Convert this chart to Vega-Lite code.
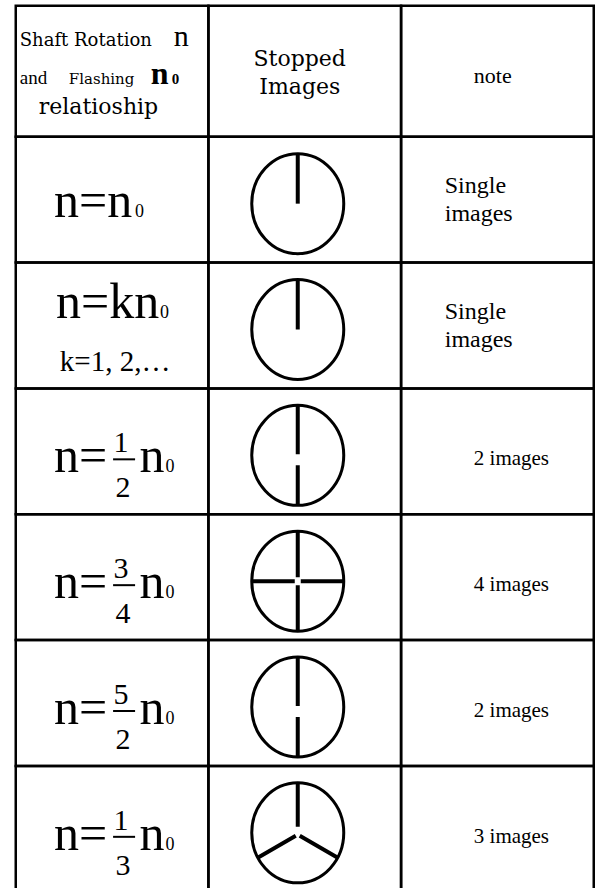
{
  "$schema": "https://vega.github.io/schema/vega-lite/v6.json",
  "background": "white",
  "padding": {"left": 13.75, "top": 3.75, "right": 0, "bottom": 0},
  "spacing": 0,
  "bounds": "flush",
  "config": {"view": {"stroke": null}},
  "datasets": {
    "header": [
      {"col": "formula", "part": "shaft", "text": "Shaft Rotation"},
      {"col": "formula", "part": "n", "text": "n"},
      {"col": "formula", "part": "and", "text": "and"},
      {"col": "formula", "part": "flash", "text": "Flashing"},
      {"col": "formula", "part": "bn", "text": "n"},
      {"col": "formula", "part": "b0", "text": "0"},
      {"col": "formula", "part": "rel", "text": "relatioship"},
      {"col": "image", "part": "stopped", "text": ["Stopped", "Images"]},
      {"col": "note", "part": "note", "text": "note"}
    ],
    "table": [
      {"row": "r1", "kind": "plain", "formula": "n=n0", "lhs": "n=n", "sub": "0", "image": "single", "note": ["Single", "images"]},
      {"row": "r2", "kind": "plain", "formula": "n=kn0, k=1, 2,…", "lhs": "n=kn", "sub": "0", "extra": "k=1, 2,…", "image": "single", "note": ["Single", "images"]},
      {"row": "r3", "kind": "frac", "formula": "n=1/2 n0", "lhs": "n=", "num": "1", "den": "2", "rhs": "n", "sub": "0", "image": "double", "note": "2 images"},
      {"row": "r4", "kind": "frac", "formula": "n=3/4 n0", "lhs": "n=", "num": "3", "den": "4", "rhs": "n", "sub": "0", "image": "quad", "note": "4 images"},
      {"row": "r5", "kind": "frac", "formula": "n=5/2 n0", "lhs": "n=", "num": "5", "den": "2", "rhs": "n", "sub": "0", "image": "double", "note": "2 images"},
      {"row": "r6", "kind": "frac", "formula": "n=1/3 n0", "lhs": "n=", "num": "1", "den": "3", "rhs": "n", "sub": "0", "image": "triple", "note": "3 images"}
    ]
  },
  "vconcat": [
    {
      "width": 578,
      "height": 131,
      "data": {"name": "header"},
      "encoding": {
        "x": {"field": "col", "type": "nominal", "scale": {"domain": ["formula", "image", "note"], "paddingInner": 0, "paddingOuter": 0}, "axis": null},
        "y": {"datum": "head", "type": "nominal", "scale": {"paddingInner": 0, "paddingOuter": 0}, "axis": null}
      },
      "layer": [
        {
          "transform": [{"aggregate": [{"op": "count", "as": "count"}], "groupby": ["col"]}],
          "mark": {"type": "rect", "fill": "transparent", "stroke": "black", "strokeWidth": 2.5}
        },
        {
          "transform": [{"filter": {"field": "part", "equal": "shaft"}}],
          "mark": {"type": "text", "font": "DejaVu Serif", "fontSize": 18, "align": "left", "baseline": "alphabetic", "dx": -92.3, "dy": -25.5, "color": "black"},
          "encoding": {"text": {"field": "text"}}
        },
        {
          "transform": [{"filter": {"field": "part", "equal": "n"}}],
          "mark": {"type": "text", "font": "Liberation Serif", "fontSize": 30, "align": "left", "baseline": "alphabetic", "dx": 61.7, "dy": -25.5, "color": "black"},
          "encoding": {"text": {"field": "text"}}
        },
        {
          "transform": [{"filter": {"field": "part", "equal": "and"}}],
          "mark": {"type": "text", "font": "Liberation Serif", "fontSize": 19, "align": "left", "baseline": "alphabetic", "dx": -92.3, "dy": 12.5, "color": "black"},
          "encoding": {"text": {"field": "text"}}
        },
        {
          "transform": [{"filter": {"field": "part", "equal": "flash"}}],
          "mark": {"type": "text", "font": "DejaVu Serif", "fontSize": 15, "align": "left", "baseline": "alphabetic", "dx": -43.3, "dy": 12.5, "color": "black"},
          "encoding": {"text": {"field": "text"}}
        },
        {
          "transform": [{"filter": {"field": "part", "equal": "bn"}}],
          "mark": {"type": "text", "font": "Liberation Serif", "fontSize": 32, "fontWeight": "bold", "align": "left", "baseline": "alphabetic", "dx": 38.7, "dy": 12.5, "color": "black"},
          "encoding": {"text": {"field": "text"}}
        },
        {
          "transform": [{"filter": {"field": "part", "equal": "b0"}}],
          "mark": {"type": "text", "font": "Liberation Serif", "fontSize": 15, "fontWeight": "bold", "align": "left", "baseline": "alphabetic", "dx": 59.7, "dy": 12.5, "color": "black"},
          "encoding": {"text": {"field": "text"}}
        },
        {
          "transform": [{"filter": {"field": "part", "equal": "rel"}}],
          "mark": {"type": "text", "font": "DejaVu Serif", "fontSize": 22, "align": "left", "baseline": "alphabetic", "dx": -73.3, "dy": 42.5, "color": "black"},
          "encoding": {"text": {"field": "text"}}
        },
        {
          "transform": [{"filter": {"field": "part", "equal": "stopped"}}],
          "mark": {"type": "text", "font": "DejaVu Serif", "fontSize": 22, "align": "center", "baseline": "alphabetic", "lineHeight": 28, "dx": -5, "dy": -5.5, "color": "black"},
          "encoding": {"text": {"field": "text"}}
        },
        {
          "transform": [{"filter": {"field": "part", "equal": "note"}}],
          "mark": {"type": "text", "font": "Liberation Serif", "fontSize": 22, "align": "center", "baseline": "alphabetic", "dx": -4.7, "dy": 11.5, "color": "black"},
          "encoding": {"text": {"field": "text"}}
        }
      ]
    },
    {
      "width": 578,
      "height": 755,
      "data": {"name": "table"},
      "encoding": {
        "y": {"field": "row", "type": "nominal", "scale": {"domain": ["r1", "r2", "r3", "r4", "r5", "r6"], "paddingInner": 0, "paddingOuter": 0}, "axis": null}
      },
      "layer": [
        {
          "transform": [{"fold": ["formula", "image", "note"]}],
          "mark": {"type": "rect", "fill": "transparent", "stroke": "black", "strokeWidth": 2.5},
          "encoding": {"x": {"field": "key", "type": "nominal", "scale": {"domain": ["formula", "image", "note"], "paddingInner": 0, "paddingOuter": 0}, "axis": null}}
        },
        {
          "transform": [{"filter": {"field": "row", "equal": "r1"}}],
          "mark": {"type": "text", "font": "Liberation Serif", "fontSize": 50, "align": "left", "baseline": "alphabetic", "dx": -58, "dy": 17, "color": "black"},
          "encoding": {"x": {"datum": "formula", "type": "nominal"}, "text": {"field": "lhs"}}
        },
        {
          "transform": [{"filter": {"field": "row", "equal": "r1"}}],
          "mark": {"type": "text", "font": "Liberation Serif", "fontSize": 18, "align": "left", "baseline": "alphabetic", "dx": 23, "dy": 17, "color": "black"},
          "encoding": {"x": {"datum": "formula", "type": "nominal"}, "text": {"field": "sub"}}
        },
        {
          "transform": [{"filter": {"field": "row", "equal": "r2"}}],
          "mark": {"type": "text", "font": "Liberation Serif", "fontSize": 50, "align": "left", "baseline": "alphabetic", "dx": -56, "dy": -8, "color": "black"},
          "encoding": {"x": {"datum": "formula", "type": "nominal"}, "text": {"field": "lhs"}}
        },
        {
          "transform": [{"filter": {"field": "row", "equal": "r2"}}],
          "mark": {"type": "text", "font": "Liberation Serif", "fontSize": 18, "align": "left", "baseline": "alphabetic", "dx": 48, "dy": -8, "color": "black"},
          "encoding": {"x": {"datum": "formula", "type": "nominal"}, "text": {"field": "sub"}}
        },
        {
          "transform": [{"filter": {"field": "row", "equal": "r2"}}],
          "mark": {"type": "text", "font": "Liberation Serif", "fontSize": 29, "align": "center", "baseline": "alphabetic", "dx": 3, "dy": 45, "color": "black"},
          "encoding": {"x": {"datum": "formula", "type": "nominal"}, "text": {"field": "extra"}}
        },
        {
          "transform": [{"filter": {"field": "kind", "equal": "frac"}}],
          "mark": {"type": "text", "font": "Liberation Serif", "fontSize": 50, "align": "left", "baseline": "alphabetic", "dx": -58, "dy": 21, "color": "black"},
          "encoding": {"x": {"datum": "formula", "type": "nominal"}, "text": {"field": "lhs"}}
        },
        {
          "transform": [{"filter": {"field": "kind", "equal": "frac"}}],
          "mark": {"type": "text", "font": "Liberation Serif", "fontSize": 30, "align": "center", "baseline": "alphabetic", "dx": 9, "dy": 1, "color": "black"},
          "encoding": {"x": {"datum": "formula", "type": "nominal"}, "text": {"field": "num"}}
        },
        {
          "transform": [{"filter": {"field": "kind", "equal": "frac"}}],
          "mark": {"type": "point", "shape": "M-1,0L1,0", "size": 484, "filled": false, "color": "black", "strokeWidth": 2, "opacity": 1, "xOffset": 12, "yOffset": 8},
          "encoding": {"x": {"datum": "formula", "type": "nominal"}}
        },
        {
          "transform": [{"filter": {"field": "kind", "equal": "frac"}}],
          "mark": {"type": "text", "font": "Liberation Serif", "fontSize": 30, "align": "center", "baseline": "alphabetic", "dx": 11, "dy": 46, "color": "black"},
          "encoding": {"x": {"datum": "formula", "type": "nominal"}, "text": {"field": "den"}}
        },
        {
          "transform": [{"filter": {"field": "kind", "equal": "frac"}}],
          "mark": {"type": "text", "font": "Liberation Serif", "fontSize": 50, "align": "left", "baseline": "alphabetic", "dx": 27.5, "dy": 21, "color": "black"},
          "encoding": {"x": {"datum": "formula", "type": "nominal"}, "text": {"field": "rhs"}}
        },
        {
          "transform": [{"filter": {"field": "kind", "equal": "frac"}}],
          "mark": {"type": "text", "font": "Liberation Serif", "fontSize": 18, "align": "left", "baseline": "alphabetic", "dx": 53.5, "dy": 21, "color": "black"},
          "encoding": {"x": {"datum": "formula", "type": "nominal"}, "text": {"field": "sub"}}
        },
        {
          "mark": {"type": "point", "shape": "M0,-1A0.92,1,0,1,1,0,1A0.92,1,0,1,1,0,-1Z", "size": 10000, "filled": false, "color": "black", "strokeWidth": 3, "opacity": 1, "xOffset": -7, "yOffset": 4},
          "encoding": {"x": {"datum": "image", "type": "nominal"}}
        },
        {
          "mark": {"type": "point", "size": 10000, "filled": false, "color": "black", "strokeWidth": 4, "opacity": 1, "xOffset": -7, "yOffset": 4},
          "encoding": {
            "x": {"datum": "image", "type": "nominal"},
            "shape": {"field": "image", "type": "nominal", "scale": {"domain": ["single", "double", "quad", "triple"], "range": ["M0,-1L0,0", "M0,-1L0,-0.02M0,0.2L0,1", "M0,-1L0,-0.08M0,0.08L0,1M-0.92,0L-0.06,0M0.06,0L0.92,0", "M0,-1L0,-0.12M-0.04,0.06L-0.8,0.5M0.04,0.06L0.8,0.5"]}, "legend": null}
          }
        },
        {
          "transform": [{"filter": {"field": "kind", "equal": "plain"}}],
          "mark": {"type": "text", "font": "Liberation Serif", "fontSize": 24, "align": "left", "baseline": "alphabetic", "lineHeight": 28, "dx": -52.7, "dy": -7, "color": "black"},
          "encoding": {"x": {"datum": "note", "type": "nominal"}, "text": {"field": "note"}}
        },
        {
          "transform": [{"filter": {"field": "kind", "equal": "frac"}}],
          "mark": {"type": "text", "font": "Liberation Serif", "fontSize": 21, "align": "center", "baseline": "alphabetic", "dx": 14, "dy": 14, "color": "black"},
          "encoding": {"x": {"datum": "note", "type": "nominal"}, "text": {"field": "note"}}
        }
      ]
    }
  ]
}
